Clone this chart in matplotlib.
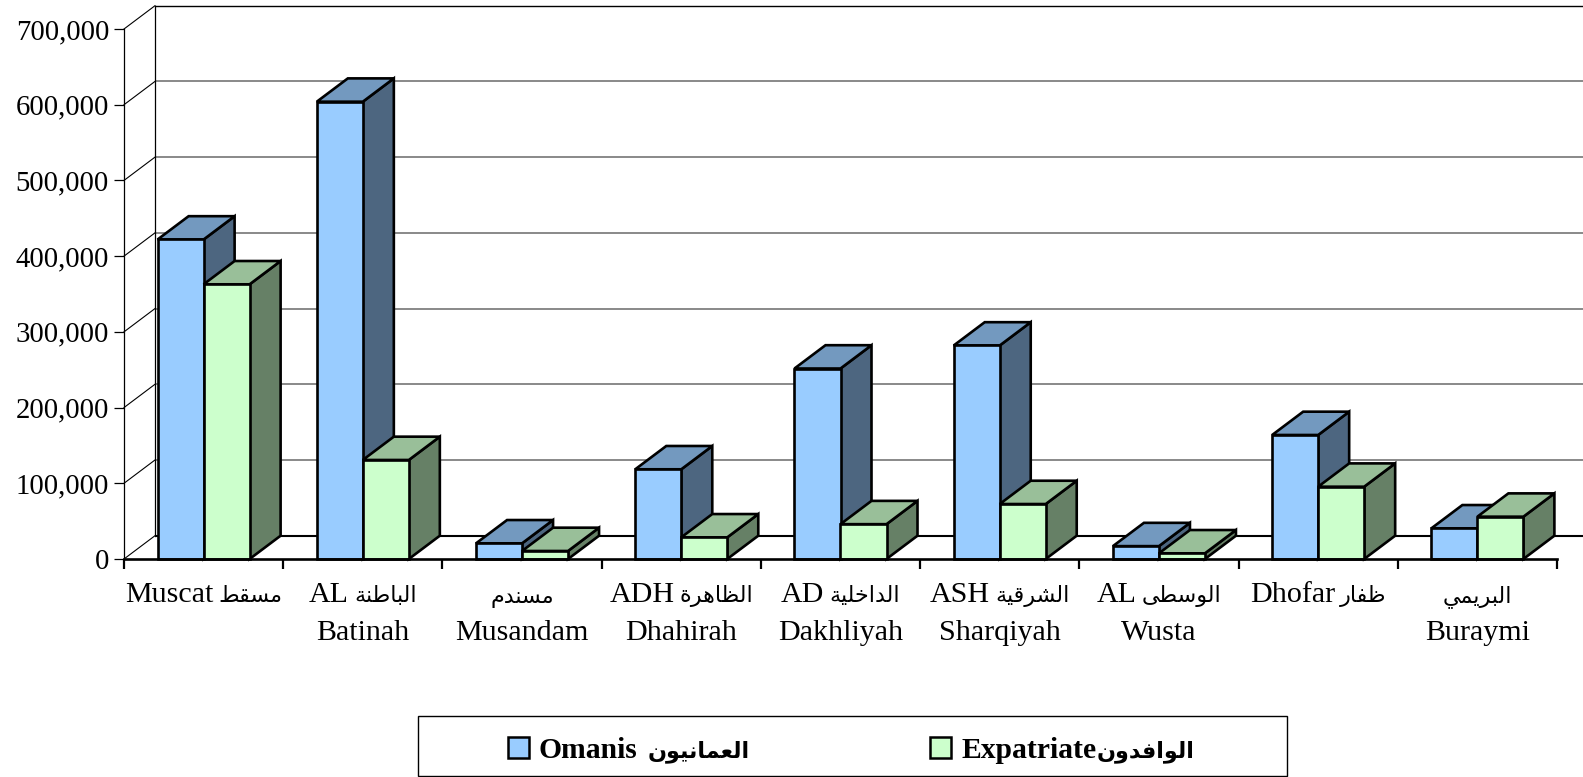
import re
import numpy as np
import matplotlib
matplotlib.use("Agg")
import matplotlib.pyplot as plt
from matplotlib.offsetbox import AnnotationBbox, HPacker, TextArea
from matplotlib.patches import Polygon, Rectangle
from matplotlib.ticker import FuncFormatter

# ---------- data ----------
# each line of a label is a list of runs, drawn left to right
category_labels = [
    [["Muscat", "مسقط"]],
    [["AL", "الباطنة"], ["Batinah"]],
    [["مسندم"], ["Musandam"]],
    [["ADH", "الظاهرة"], ["Dhahirah"]],
    [["AD", "الداخلية"], ["Dakhliyah"]],
    [["ASH", "الشرقية"], ["Sharqiyah"]],
    [["AL", "الوسطى"], ["Wusta"]],
    [["Dhofar", "ظفار"]],
    [["البريمي"], ["Buraymi"]],
]
omanis = [422000, 604000, 20700, 118500, 251600, 282000, 17000, 163800, 40500]
expatriates = [362800, 130800, 10600, 28600, 46000, 72600, 7500, 95500, 55900]
y_ticks = [0, 100000, 200000, 300000, 400000, 500000, 600000, 700000]
legend_labels = [["Omanis", "العمانيون"], ["Expatriate", "الوافدون"]]

# ---------- Arabic shaping (matplotlib lays text out left to right, unshaped) ----------
FORMS = {"ا": (0xFE8D, 2), "ب": (0xFE8F, 4), "ة": (0xFE93, 2), "خ": (0xFEA5, 4), "د": (0xFEA9, 2),
         "ر": (0xFEAD, 2), "س": (0xFEB1, 4), "ش": (0xFEB5, 4), "ط": (0xFEC1, 4), "ظ": (0xFEC5, 4),
         "ع": (0xFEC9, 4), "ف": (0xFED1, 4), "ق": (0xFED5, 4), "ل": (0xFEDD, 4), "م": (0xFEE1, 4),
         "ن": (0xFEE5, 4), "ه": (0xFEE9, 4), "و": (0xFEED, 2), "ى": (0xFEEF, 2), "ي": (0xFEF1, 4)}


def shape_run(match):
    word = match.group(0)
    out = []
    for i, ch in enumerate(word):
        base, n = FORMS[ch]
        joins_prev = i > 0 and FORMS[word[i - 1]][1] == 4
        joins_next = i < len(word) - 1 and n == 4
        offset = (3 if joins_next else 1) if joins_prev else (2 if joins_next else 0)
        out.append(chr(base + offset))
    return "".join(reversed(out))


def shape(text):
    return re.sub("[\u0600-\u06FF]+", shape_run, text)


def is_arabic(text):
    return re.search("[\u0600-\u06FF]", text) is not None


# ---------- style ----------
plt.rcParams["font.family"] = ["Liberation Serif", "DejaVu Sans"]
W, H, DPI = 1583, 777, 100
PX = 72 / DPI
AX_L, AX_R, AX_T, AX_B = 124, 1557, 29, 559
DEPTH_PX_X, DEPTH_PX_Y = 31, 23.3
BAR_WIDTH = 46 / 159.22
BLUE = ("#99CCFF", "#7399BF", "#4D6680")
GREEN = ("#CCFFCC", "#99BF99", "#668066")
EDGE_LW = 1.9

fig = plt.figure(figsize=(W / DPI, H / DPI), dpi=DPI, facecolor="white")
ax = fig.add_axes([AX_L / W, 1 - AX_B / H, (AX_R - AX_L) / W, (AX_B - AX_T) / H])
ax.patch.set_alpha(0)
ax.set_xlim(0, len(omanis))
ax.set_ylim(0, 700000)
dx = DEPTH_PX_X * len(omanis) / (AX_R - AX_L)
dy = DEPTH_PX_Y * 700000 / (AX_B - AX_T)

# back wall, side wall and gridlines
for v in y_ticks:
    grid_color = "black" if v in (0, 700000) else "#808080"
    ax.plot([dx, 9 + dx], [v + dy, v + dy], color=grid_color, clip_on=False, zorder=0.5,
            lw=1.5 if v == 0 else (1.0 if v == 700000 else 1.3), solid_capstyle="butt")
    ax.plot([0, dx], [v, v + dy], color="black", lw=0.8, clip_on=False, zorder=0.6)
ax.plot([dx, dx], [dy, 700000 + dy], color="black", lw=0.9, clip_on=False, zorder=0.6)


def draw_bar(x, value, colors):
    front, top, side = colors
    left, right = x - BAR_WIDTH / 2, x + BAR_WIDTH / 2
    style = dict(edgecolor="black", linewidth=EDGE_LW, joinstyle="miter", clip_on=False)
    ax.add_patch(Polygon([(right, 0), (right + dx, dy), (right + dx, value + dy), (right, value)],
                         facecolor=side, **style))
    ax.add_patch(Polygon([(left, value), (right, value), (right + dx, value + dy), (left + dx, value + dy)],
                         facecolor=top, **style))
    ax.bar([x], [value], width=BAR_WIDTH, color=front, edgecolor="black", linewidth=EDGE_LW, clip_on=False)


for i, (a, b) in enumerate(zip(omanis, expatriates)):
    draw_bar(i + 0.5 - BAR_WIDTH / 2, a, BLUE)
    draw_bar(i + 0.5 + BAR_WIDTH / 2, b, GREEN)

# axes
for s in ("top", "right"):
    ax.spines[s].set_visible(False)
ax.spines["left"].set_linewidth(0.9)
ax.spines["bottom"].set_linewidth(1.9)
ax.set_yticks(y_ticks)
ax.yaxis.set_major_formatter(FuncFormatter(lambda v, _: f"{int(v):,}"))
ax.tick_params(axis="y", length=7.2, width=0.9, pad=3.6, labelsize=20.7, colors="black")
ax.set_xticks(np.arange(len(omanis) + 1))
ax.set_xticklabels([])
ax.tick_params(axis="x", which="major", length=7.2, width=1.6)


def run_box(runs, latin_size, arabic_size, weight, sep_px):
    children = []
    for r in runs:
        size = arabic_size if is_arabic(r) else latin_size
        children.append(TextArea(shape(r), textprops=dict(size=size, weight=weight, color="black")))
    return HPacker(children=children, align="baseline", pad=0, sep=sep_px * PX)


# category labels: Arabic is set smaller because the only Arabic face (DejaVu) is wide
LINE_BOTTOMS_PX = [49, 86.5]   # below the axis line
for i, lines in enumerate(category_labels):
    for line, bottom in zip(lines, LINE_BOTTOMS_PX):
        box = run_box(line, 21.6, 16, "normal", 5)
        ax.add_artist(AnnotationBbox(box, (i + 0.5, 0), xycoords=ax.get_xaxis_transform(),
                                     xybox=(0, -bottom * PX), boxcoords="offset points",
                                     box_alignment=(0.5, 0), frameon=False, pad=0,
                                     annotation_clip=False))

# legend
fig.add_artist(Rectangle((418 / W, 1 - 776 / H), (1287 - 418) / W, 60 / H, transform=fig.transFigure,
                         facecolor="none", edgecolor="black", linewidth=1.0))
legend_items = [(508, 538, BLUE[0], legend_labels[0], 11), (930, 961, GREEN[0], legend_labels[1], 0)]
for swatch_x, text_x, color, runs, sep in legend_items:
    fig.add_artist(Rectangle((swatch_x / W, 1 - 758 / H), 21 / W, 21 / H, transform=fig.transFigure,
                             facecolor=color, edgecolor="black", linewidth=1.8))
    box = run_box(runs, 21.3, 16, "bold", sep)
    ax.add_artist(AnnotationBbox(box, (text_x / W, 1 - 763.5 / H), xycoords="figure fraction",
                                 box_alignment=(0, 0), frameon=False, pad=0, annotation_clip=False))

fig.savefig("out.png", dpi=DPI)
